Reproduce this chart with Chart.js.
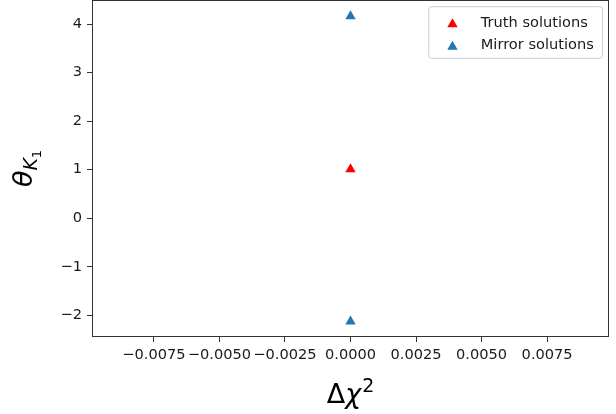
<!DOCTYPE html>
<html>
<head>
<meta charset="utf-8">
<script src="https://cdn.jsdelivr.net/npm/chart.js@4"></script>
<style>
html, body { margin: 0; padding: 0; background: #fff; }
</style>
</head>
<body>
<canvas id="c" width="616" height="414"></canvas>
<script>
// Values
const truthX = [0];
const truthY = [1.01];
const mirrorX = [0, 0];
const mirrorY = [4.16, -2.13];
const xTicks = [-0.0075, -0.005, -0.0025, 0, 0.0025, 0.005, 0.0075];
const yTicks = [-2, -1, 0, 1, 2, 3, 4];
const xRange = [-0.00986, 0.00986];
const yRange = [-2.447, 4.495];
const seriesLabels = ['Truth solutions', 'Mirror solutions'];
const seriesColors = ['#ff0000', '#1f77b4'];

const FONT = "'DejaVu Sans', sans-serif";
const TEXT = '#1a1a1a';
const TICK_SIZE = 14.6;
const MARK = 6;

function toPoints(xs, ys) {
    return xs.map((x, i) => ({ x: x, y: ys[i] }));
}

function minus(s) {
    return s.replace('-', '\u2212');
}

// draws a run of text pieces, returns the end x
function drawRuns(ctx, runs, x, y) {
    runs.forEach(r => {
        ctx.font = r.font;
        ctx.fillText(r.text, x, y + (r.dy || 0));
        x += ctx.measureText(r.text).width + (r.gap || 0);
    });
    return x;
}

function runsWidth(ctx, runs) {
    let w = 0;
    runs.forEach(r => {
        ctx.font = r.font;
        w += ctx.measureText(r.text).width + (r.gap || 0);
    });
    return w;
}

function triangle(ctx, x, y, r) {
    ctx.beginPath();
    ctx.moveTo(x, y - r);
    ctx.lineTo(x + r * 0.866, y + r * 0.5);
    ctx.lineTo(x - r * 0.866, y + r * 0.5);
    ctx.closePath();
    ctx.fill();
}

const decorations = {
    id: 'decorations',
    afterDraw(chart) {
        const ctx = chart.ctx;
        const a = chart.chartArea;
        ctx.save();

        // axes frame
        ctx.strokeStyle = '#333';
        ctx.lineWidth = 1;
        ctx.strokeRect(a.left + 0.5, a.top + 0.5, a.right - a.left - 1, a.bottom - a.top - 1);

        // legend box
        ctx.font = TICK_SIZE + 'px ' + FONT;
        const textW = Math.max(...seriesLabels.map(s => ctx.measureText(s).width));
        const boxR = a.right - 6.5;
        const boxT = a.top + 6.7;
        const textX = boxR - 8.7 - textW;
        const boxL = textX - 52;
        const boxH = 51.6;
        const rad = 3;
        ctx.beginPath();
        ctx.moveTo(boxL + rad, boxT);
        ctx.lineTo(boxR - rad, boxT);
        ctx.arcTo(boxR, boxT, boxR, boxT + rad, rad);
        ctx.lineTo(boxR, boxT + boxH - rad);
        ctx.arcTo(boxR, boxT + boxH, boxR - rad, boxT + boxH, rad);
        ctx.lineTo(boxL + rad, boxT + boxH);
        ctx.arcTo(boxL, boxT + boxH, boxL, boxT + boxH - rad, rad);
        ctx.lineTo(boxL, boxT + rad);
        ctx.arcTo(boxL, boxT, boxL + rad, boxT, rad);
        ctx.closePath();
        ctx.fillStyle = 'rgba(255,255,255,0.8)';
        ctx.fill();
        ctx.strokeStyle = '#cccccc';
        ctx.stroke();

        seriesLabels.forEach((lab, i) => {
            const base = boxT + 20 + i * 22.6;
            ctx.fillStyle = seriesColors[i];
            triangle(ctx, boxL + 23.7, base - 2.5, MARK);
            ctx.fillStyle = TEXT;
            ctx.font = TICK_SIZE + 'px ' + FONT;
            ctx.textBaseline = 'alphabetic';
            ctx.textAlign = 'left';
            ctx.fillText(lab, textX, base);
        });

        // axis titles (mathtext style)
        ctx.fillStyle = '#000';
        ctx.textBaseline = 'alphabetic';
        ctx.textAlign = 'left';
        const big = 27;
        const xRuns = [
            { text: '\u0394', font: big + 'px ' + FONT },
            { text: '\u03c7', font: 'italic ' + big + 'px ' + FONT, gap: 1 },
            { text: '2', font: Math.round(big * 0.7) + 'px ' + FONT, dy: -11 }
        ];
        const xw = runsWidth(ctx, xRuns);
        drawRuns(ctx, xRuns, (a.left + a.right) / 2 - xw / 2, 403);

        const yRuns = [
            { text: '\u03b8', font: 'italic ' + big + 'px ' + FONT },
            { text: 'K', font: 'italic ' + Math.round(big * 0.7) + 'px ' + FONT, dy: 5 },
            { text: '1', font: Math.round(big * 0.49) + 'px ' + FONT, dy: 9 }
        ];
        const yw = runsWidth(ctx, yRuns);
        ctx.translate(32, (a.top + a.bottom) / 2);
        ctx.rotate(-Math.PI / 2);
        drawRuns(ctx, yRuns, -yw / 2, 0);

        ctx.restore();
    }
};

new Chart(document.getElementById('c'), {
    type: 'scatter',
    data: {
        datasets: [
            {
                label: seriesLabels[0],
                data: toPoints(truthX, truthY),
                pointStyle: 'triangle',
                radius: MARK,
                backgroundColor: seriesColors[0],
                borderColor: seriesColors[0],
                borderWidth: 0
            },
            {
                label: seriesLabels[1],
                data: toPoints(mirrorX, mirrorY),
                pointStyle: 'triangle',
                radius: MARK,
                backgroundColor: seriesColors[1],
                borderColor: seriesColors[1],
                borderWidth: 0
            }
        ]
    },
    options: {
        responsive: false,
        animation: false,
        events: [],
        layout: { autoPadding: false, padding: { top: 0, right: 7, left: 0, bottom: 0 } },
        plugins: {
            legend: { display: false },
            tooltip: { enabled: false }
        },
        scales: {
            x: {
                type: 'linear',
                min: xRange[0],
                max: xRange[1],
                afterBuildTicks: s => { s.ticks = xTicks.map(v => ({ value: v })); },
                afterFit: s => { s.height = 77; s.paddingLeft = 0; s.paddingRight = 0; },
                border: { display: false },
                grid: { drawOnChartArea: false, drawTicks: true, tickLength: 5, tickColor: '#333' },
                ticks: {
                    padding: 4,
                    color: TEXT,
                    font: { family: FONT, size: TICK_SIZE },
                    maxRotation: 0,
                    autoSkip: false,
                    callback: v => minus(Math.abs(v) < 1e-12 ? '0.0000' : v.toFixed(4))
                }
            },
            y: {
                type: 'linear',
                min: yRange[0],
                max: yRange[1],
                afterBuildTicks: s => { s.ticks = yTicks.map(v => ({ value: v })); },
                afterFit: s => { s.width = 92; s.paddingTop = 0; s.paddingBottom = 0; },
                border: { display: false },
                grid: { drawOnChartArea: false, drawTicks: true, tickLength: 5, tickColor: '#333' },
                ticks: {
                    padding: 5,
                    color: TEXT,
                    font: { family: FONT, size: TICK_SIZE },
                    autoSkip: false,
                    callback: v => minus(String(v))
                }
            }
        }
    },
    plugins: [decorations]
});
</script>
</body>
</html>
